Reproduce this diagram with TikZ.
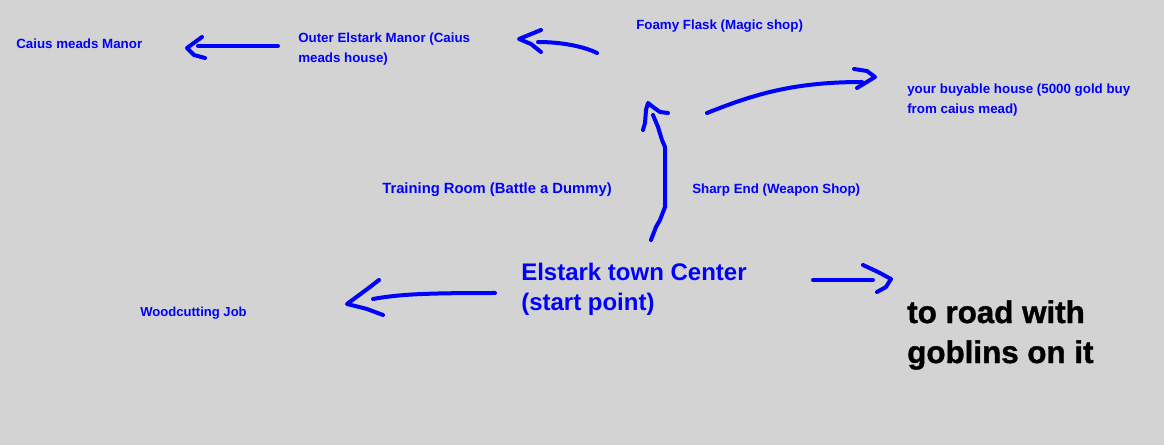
\documentclass[tikz,border=0pt]{standalone}
\usepackage{fontspec}
\setmainfont{Liberation Sans}
\newfontfamily\heavyfont[FakeBold=1.2]{Liberation Sans Bold}
\usetikzlibrary{positioning}
\definecolor{pen}{RGB}{0,0,255}
\definecolor{paper}{RGB}{211,211,211}

\tikzset{
  place/.style={anchor=west, text=pen, align=left, inner sep=0pt,
    font=\bfseries\fontsize{10}{15}\selectfont},
  scribble/.style={draw=pen, line width=3pt, line cap=round, line join=round},
}

\begin{document}
\begin{tikzpicture}[x=0.75pt,y=-0.75pt]
  \fill[paper] (0,0) rectangle (1164,445);
  \useasboundingbox (0,0) rectangle (1164,445);

  % places
  \node[place] (manor) at (16,44) {Caius meads Manor};
  \node[place] (outer) at (298,49) {Outer Elstark Manor (Caius\\meads house)};
  \node[place] (flask) at (636,26) {Foamy Flask (Magic shop)};
  \node[place] (house) at (907,100) {your buyable house (5000 gold buy\\from caius mead)};
  \node[place, font=\bfseries\fontsize{11.1}{15}\selectfont] (training) at (382,190) {Training Room (Battle a Dummy)};
  \node[place] (sharp) at (692,190) {Sharp End (Weapon Shop)};
  \node[place, font=\bfseries\fontsize{18}{22.5}\selectfont] (center) at (521,289) {Elstark town Center\\(start point)};
  \node[place, font=\bfseries\fontsize{9.8}{15}\selectfont] (wood) at (140,313) {Woodcutting Job};
  \node[place, text=black, font=\heavyfont\fontsize{23.5}{30}\selectfont] (road) at (907,335) {to road with\\goblins on it};

  % arrow ends
  \coordinate (outerL) at (278,46);
  \coordinate (manorR) at (198,46);
  \coordinate (manorTip) at (187,48);
  \coordinate (flaskL) at (597,53);
  \coordinate (outerR) at (538,42);
  \coordinate (outerTip) at (519,39);
  \coordinate (centerT) at (651,240);
  \coordinate (flaskB) at (653,115);
  \coordinate (flaskTip) at (648,103);
  \coordinate (houseS) at (707,113);
  \coordinate (houseE) at (862,82);
  \coordinate (houseTip) at (875,77);
  \coordinate (centerL) at (495,293);
  \coordinate (woodR) at (373,299);
  \coordinate (woodTip) at (347,304);
  \coordinate (centerR) at (813,280);
  \coordinate (roadL) at (873,280);
  \coordinate (roadTip) at (891,279);

  % Outer -> Caius
  \draw[scribble] (outerL) -- (manorR);
  \draw[scribble] (202,37) -- (manorTip) -- (194,55) -- (205,58);

  % Foamy -> Outer
  \draw[scribble] (flaskL) .. controls (583,46) and (560,42) .. (outerR);
  \draw[scribble] (541,30) -- (outerTip) -- (531,44) -- (541,52);

  % Center -> Foamy
  \draw[scribble] (centerT) -- (656,227) -- (660,220) -- (665,207) -- (665,147)
    -- (662,140) -- (658,127) -- (flaskB);
  \draw[scribble] (643,130) -- (645,123) -- (646,110) -- (flaskTip) -- (653,107)
    -- (660,112) -- (668,113);

  % up there -> house
  \draw[scribble] (houseS) .. controls (750,96) and (790,82) .. (houseE);
  \draw[scribble] (854,69) -- (867,71) -- (houseTip) -- (857,88);

  % Center -> Woodcutting
  \draw[scribble] (centerL) .. controls (430,293) and (400,294) .. (woodR);
  \draw[scribble] (379,280) -- (370,287) -- (woodTip) -- (367,309) -- (383,315);

  % Center -> road
  \draw[scribble] (centerR) -- (roadL);
  \draw[scribble] (863,265) -- (878,272) -- (roadTip) -- (886,287) -- (877,292);
\end{tikzpicture}
\end{document}
